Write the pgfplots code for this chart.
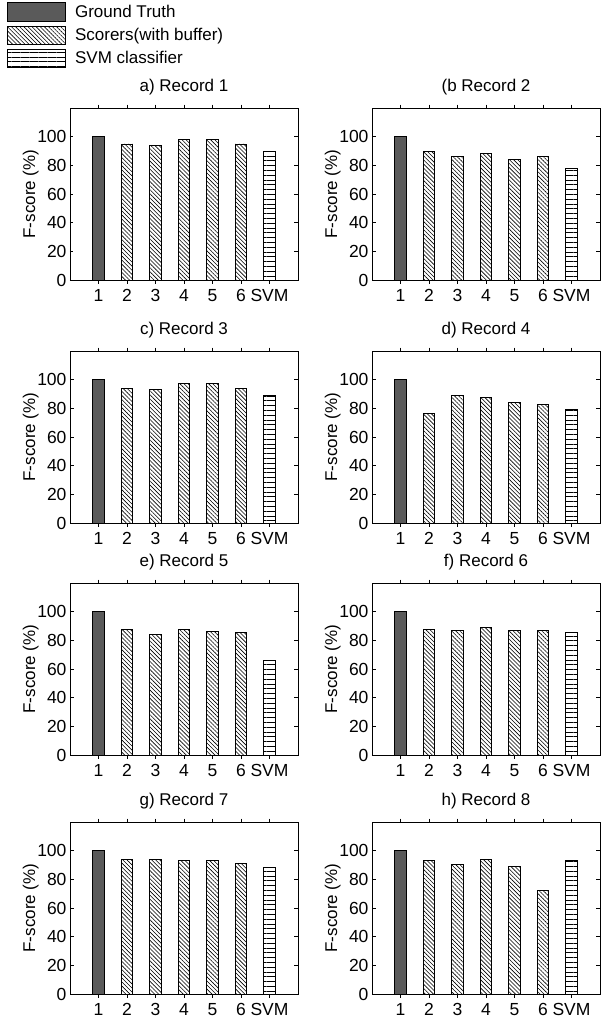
\documentclass[border=0pt]{standalone}
\usepackage{pgfplots}
\pgfplotsset{compat=1.18}
\usepackage{fontspec}
\setmainfont{Liberation Sans}
\usetikzlibrary{patterns.meta}
\definecolor{gt}{RGB}{90,90,90}

\pgfplotsset{
  panel/.style={
    scale only axis, width=228pt, height=172pt,
    xmin=0, xmax=8, ymin=0, ymax=120,
    ytick={0,20,40,60,80,100},
    xtick={1,2,3,4,5,6,7},
    xticklabels={1,2,3,4,5,6,SVM},
    tick align=inside, major tick length=3.5pt,
    xtick pos=both, ytick pos=both,
    tick style={black, line width=0.7pt},
    axis line style={line width=0.9pt},
    ybar, bar width=0.4, bar shift=0pt,
    ylabel={F-score (\%)},
    ylabel style={at={(axis description cs:-0.172,0.5)}, anchor=center, rotate=0},
    title style={at={(axis description cs:0.5,1)}, anchor=base, yshift=11pt},
    tick label style={font=\fontsize{17.5}{20}\selectfont},
    label style={font=\fontsize{17}{20}\selectfont},
    title style={font=\fontsize{17}{20}\selectfont},
    /pgf/number format/assume math mode=true,
    xticklabel style={text height=12.5pt, text depth=0pt, inner ysep=1.5pt, yshift=-4pt},
  },
  gtbar/.style={fill=gt, draw=black, line width=0.8pt,
    legend image code/.code={\draw[fill=gt, draw=black, line width=0.8pt] (0pt,-9.5pt) rectangle (58pt,9.5pt);}},
  scbar/.style={draw=black, line width=0.8pt,
    pattern={Lines[angle=-45, distance=2.9pt, line width=0.6pt]},
    legend image code/.code={\draw[draw=black, line width=0.8pt, pattern={Lines[angle=-45, distance=2.9pt, line width=0.6pt]}] (0pt,-9pt) rectangle (58pt,9pt);}},
  svmbar/.style={draw=black, line width=0.8pt,
    pattern={Lines[angle=0, distance=4.8pt, line width=0.6pt]},
    legend image code/.code={\draw[draw=black, line width=0.8pt, pattern={Lines[angle=0, distance=4.5pt, line width=0.6pt]}] (0pt,-9pt) rectangle (58pt,9pt);}},
}

\newcommand{\panel}[5]{%
  \begin{axis}[panel, at={(#1pt,-#2pt)}, anchor=south west, title={#3}]
    \addplot[gtbar] coordinates {(1,100)};
    \addplot[scbar] coordinates {#4};
    \addplot[svmbar] coordinates {(7,#5)};
  \end{axis}}

\begin{document}
\begin{tikzpicture}[x=1pt,y=1pt]
\useasboundingbox (0,0) rectangle (603,-1020);

\begin{axis}[panel, at={(70pt,-280pt)}, anchor=south west, title={a) Record 1},
  legend style={at={(axis description cs:-0.276,1.616)}, anchor=north west,
    draw=none, fill=none, font=\fontsize{17}{20}\selectfont,
    row sep=4pt, column sep=0pt, inner sep=0pt,
    nodes={inner sep=0pt, anchor=west}},
  legend cell align=left]
  \addplot[gtbar] coordinates {(1,100)};
  \addlegendentry{\hspace{9pt}Ground Truth}
  \addplot[scbar] coordinates {(2,94.9) (3,93.7) (4,98.1) (5,98.1) (6,94.9)};
  \addlegendentry{\hspace{9pt}Scorers(with buffer)}
  \addplot[svmbar] coordinates {(7,89.9)};
  \addlegendentry{\hspace{9pt}SVM classifier}
\end{axis}

\panel{372}{280}{(b Record 2}{(2,89.7) (3,86.0) (4,88.6) (5,83.9) (6,86.0)}{77.8}
\panel{70}{523}{c) Record 3}{(2,93.9) (3,93.0) (4,97.4) (5,97.4) (6,93.9)}{89.0}
\panel{372}{523}{d) Record 4}{(2,76.5) (3,89.0) (4,87.8) (5,84.0) (6,82.9)}{79.6}
\panel{70}{755}{e) Record 5}{(2,87.7) (3,84.0) (4,87.7) (5,85.9) (6,85.4)}{66.0}
\panel{372}{755}{f) Record 6}{(2,87.7) (3,86.6) (4,88.9) (5,86.6) (6,86.6)}{85.2}
\panel{70}{994}{g) Record 7}{(2,93.9) (3,93.9) (4,93.0) (5,93.0) (6,91.1)}{88.1}
\panel{372}{994}{h) Record 8}{(2,93.0) (3,90.2) (4,93.9) (5,89.3) (6,72.5)}{93.0}

\end{tikzpicture}
\end{document}
